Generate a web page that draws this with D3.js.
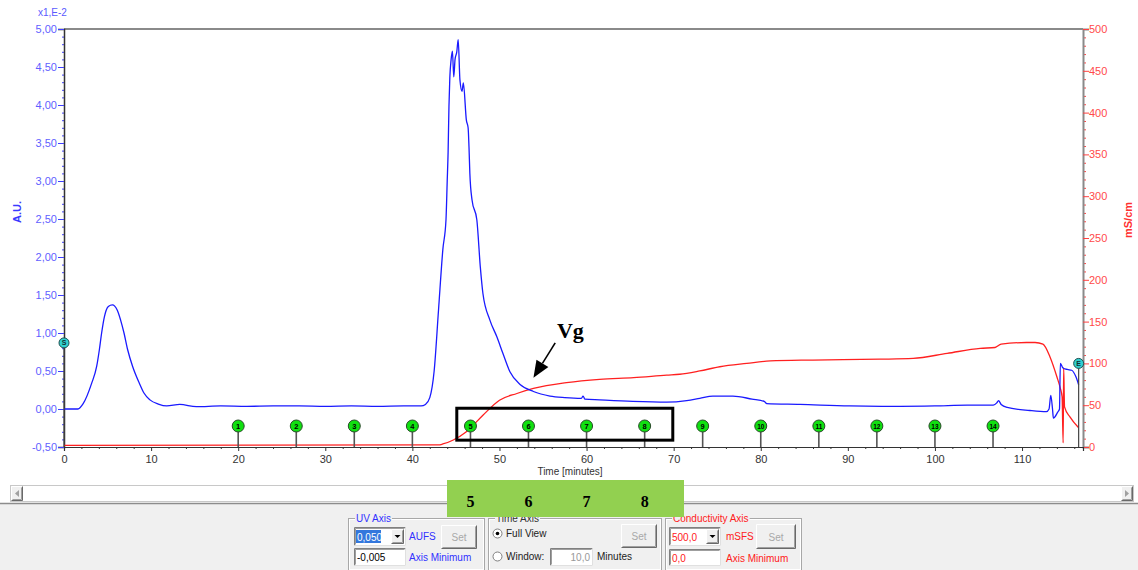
<!DOCTYPE html>
<html>
<head>
<meta charset="utf-8">
<script src="https://cdn.jsdelivr.net/npm/d3@7"></script>
<style>
html, body { margin: 0; padding: 0; background: #ffffff; }
svg { display: block; font-family: "Liberation Sans", Arial, sans-serif; }
</style>
</head>
<body>
<svg id="chart" width="1138" height="570"></svg>
<script>
// UV absorbance trace (A.U. x 1E-2) against time in minutes
const uvTime = [0, 1.6, 2.2, 3.18, 3.75, 4.06, 4.32, 4.63, 5.09, 5.55, 6.12, 6.5, 6.89, 7.31, 7.88, 8.65, 9.18, 9.87, 10.83, 11.8, 13.3, 15.2,
  18, 21, 24, 27, 30, 33, 36, 39, 41.0, 41.5, 42.0, 42.5, 43.0, 43.5, 43.86, 44.0, 44.1, 44.2, 44.3, 44.45, 44.6, 44.75, 44.9, 45.1, 45.26, 45.46,
  45.7, 45.85, 46.2, 46.4, 46.5, 46.6, 46.85, 47.4, 47.8, 48.1, 48.9, 49.7, 50.4, 51.2, 52.4, 53.9, 55.8, 57.5, 59.4, 59.6, 59.8,
  61.5, 65.3, 69.2, 71.5, 73, 74.5, 76.8, 79, 80.4, 80.7, 84.5, 90.2, 96, 100, 103.7, 106.7, 107.1, 107.3, 107.6, 108.3, 110.9,
  112.8, 113.1, 113.3, 113.5, 113.6, 114.1, 114.3, 114.4, 114.7, 115.2, 115.7, 116.2, 116.5];
const uvValue = [0, 0, 0.07, 0.34, 0.56, 0.78, 1.0, 1.21, 1.35, 1.37, 1.30, 1.17, 1.0, 0.78, 0.56, 0.34, 0.21, 0.12, 0.065, 0.04, 0.06, 0.03,
  0.04, 0.035, 0.04, 0.04, 0.035, 0.04, 0.035, 0.04, 0.04, 0.06, 0.15, 0.5, 1.3, 2.1, 2.49, 3.0, 3.37, 3.98, 4.36, 4.6, 4.71, 4.37, 4.6, 4.7, 4.86, 4.33,
  4.18, 4.29, 3.8, 3.7, 3.45, 3.1, 2.75, 2.49, 1.87, 1.52, 1.17, 0.95, 0.73, 0.49, 0.32, 0.23, 0.17, 0.15, 0.14, 0.17, 0.13,
  0.12, 0.10, 0.09, 0.11, 0.14, 0.17, 0.17, 0.13, 0.10, 0.07, 0.06, 0.04, 0.035, 0.04, 0.05, 0.05, 0.08, 0.11, 0.06, 0.02, -0.02,
  -0.035, 0.0, 0.18, 0.0, -0.12, -0.04, 0.0, 0.60, 0.54, 0.52, 0.51, 0.42, 0.32];

// Conductivity trace (mS/cm) against time in minutes
const condTime = [0, 43.0, 43.5, 44.7, 46.2, 48.1, 50.0, 52.0, 53.9, 57.7, 61.5, 65.4, 69.2, 70.7, 73.0, 75.3, 78.4, 81.1, 86, 93.7, 97.5,
  101.4, 105.2, 106.9, 107.6, 110.5, 111.5, 112.4, 113.2, 114.0, 114.4, 114.6, 114.72, 114.78, 114.88, 115.5, 116.5];
const condValue = [2, 2.5, 3.6, 8.4, 18.3, 38, 56, 64, 70, 77, 81, 83, 86, 87, 91, 96, 100, 103, 104, 105, 106,
  112, 118, 119, 123, 125, 125, 123, 108, 84, 70, 60, 5, 95, 48, 36, 23];

// Fraction collector marks
const fractionLabels = ["1", "2", "3", "4", "5", "6", "7", "8", "9", "10", "11", "12", "13", "14"];
const fractionTime = [20, 26.67, 33.33, 40, 46.67, 53.33, 60, 66.67, 73.33, 80, 86.67, 93.33, 100, 106.67];

// Run start / end events
const startLabel = "S", startTime = 0, startUV = 0.87;
const endLabel = "E", endTime = 116.5, endCond = 100;

// Axis ticks
const uvMajorTicks = [-0.5, 0, 0.5, 1, 1.5, 2, 2.5, 3, 3.5, 4, 4.5, 5];
const condMajorTicks = [0, 50, 100, 150, 200, 250, 300, 350, 400, 450, 500];
const timeMajorTicks = [0, 10, 20, 30, 40, 50, 60, 70, 80, 90, 100, 110];

// Highlighted fraction window and annotation
const boxTime = [45.1, 69.9], boxUV = [0.01, -0.41];
const arrowFrom = [56.4, 0.87], arrowTo = [53.9, 0.41];
const vgLabel = "Vg", vgAt = [56.6, 0.93];
const highlighted = ["5", "6", "7", "8"];

const svg = d3.select("#chart");
const x = d3.scaleLinear().domain([0, 117]).range([64, 1083]);
const yL = d3.scaleLinear().domain([-0.5, 5]).range([447, 29]);
const yR = d3.scaleLinear().domain([0, 500]).range([447, 29]);

const commaFmt = (f) => (v) => d3.format(f)(v).replace(".", ",").replace("−", "-");

// Plot frame
svg.append("line").attr("x1", 64).attr("x2", 1083).attr("y1", 29).attr("y2", 29)
  .attr("stroke", "#8a8a8a").attr("stroke-width", 2);

// Left axis (UV)
const uvMinor = d3.range(-5, 51).map(d => d / 10).filter(v => !uvMajorTicks.some(m => Math.abs(m - v) < 1e-6));
const gLm = svg.append("g").attr("transform", "translate(64,0)")
  .call(d3.axisLeft(yL).tickValues(uvMinor).tickSize(2).tickFormat(""));
gLm.select(".domain").remove();
gLm.selectAll(".tick line").attr("stroke", "#4040ff");
const gL = svg.append("g").attr("transform", "translate(64,0)")
  .call(d3.axisLeft(yL).tickValues(uvMajorTicks).tickSize(6).tickPadding(1).tickFormat(commaFmt(".2f")));
gL.select(".domain").attr("stroke", "#333").attr("stroke-width", 1.5);
gL.selectAll(".tick line").attr("stroke", "#4040ff");
gL.selectAll(".tick text").attr("fill", "#5f5fff").style("font-size", "11px");

// Right axis (conductivity)
const condMinor = d3.range(0, 501, 10).filter(v => v % 50 !== 0);
const gRm = svg.append("g").attr("transform", "translate(1083,0)")
  .call(d3.axisRight(yR).tickValues(condMinor).tickSize(3).tickFormat(""));
gRm.select(".domain").remove();
gRm.selectAll(".tick line").attr("stroke", "#ff4040");
const gR = svg.append("g").attr("transform", "translate(1083,0)")
  .call(d3.axisRight(yR).tickValues(condMajorTicks).tickSize(6).tickPadding(0).tickFormat(d3.format("d")));
gR.select(".domain").attr("stroke", "#8a8a8a").attr("stroke-width", 2);
gR.selectAll(".tick line").attr("stroke", "#ff4040");
gR.selectAll(".tick text").attr("fill", "#ff4a4a").style("font-size", "11px");

// Bottom axis (time)
const timeMinor = d3.range(0, 117, 2).filter(v => v % 10 !== 0);
const gBm = svg.append("g").attr("transform", "translate(0,447)")
  .call(d3.axisBottom(x).tickValues(timeMinor).tickSize(2).tickFormat(""));
gBm.select(".domain").remove();
gBm.selectAll(".tick line").attr("stroke", "#333");
const gB = svg.append("g").attr("transform", "translate(0,447)")
  .call(d3.axisBottom(x).tickValues(timeMajorTicks).tickSize(4).tickPadding(4).tickFormat(d3.format("d")));
gB.select(".domain").attr("stroke", "#333").attr("stroke-width", 1.2);
gB.selectAll(".tick line").attr("stroke", "#333");
gB.selectAll(".tick text").attr("fill", "#333").style("font-size", "11px");

// Axis titles
svg.append("text").attr("x", 38).attr("y", 16).attr("fill", "#5a5aff").style("font-size", "10px").text("x1,E-2");
svg.append("text").attr("transform", "translate(21,212) rotate(-90)").attr("text-anchor", "middle")
  .attr("fill", "#3a3aff").style("font-size", "11px").style("font-weight", "bold").text("A.U.");
svg.append("text").attr("transform", "translate(1132,220) rotate(-90)").attr("text-anchor", "middle")
  .attr("fill", "#ff3030").style("font-size", "11px").style("font-weight", "bold").text("mS/cm");
svg.append("text").attr("x", 570).attr("y", 475).attr("text-anchor", "middle")
  .attr("fill", "#333").style("font-size", "10px").text("Time [minutes]");

// Traces
svg.append("clipPath").attr("id", "plotClip").append("rect")
  .attr("x", 64).attr("y", 29).attr("width", 1019).attr("height", 419);
const plot = svg.append("g").attr("clip-path", "url(#plotClip)");

const condLine = d3.line().curve(d3.curveMonotoneX).x((d, i) => x(condTime[i])).y(d => yR(d));
plot.append("path").datum(condValue).attr("d", condLine)
  .attr("fill", "none").attr("stroke", "#ff2020").attr("stroke-width", 1.3);

const uvLine = d3.line().curve(d3.curveMonotoneX).x((d, i) => x(uvTime[i])).y(d => yL(d));
plot.append("path").datum(uvValue).attr("d", uvLine)
  .attr("fill", "none").attr("stroke", "#1a1aff").attr("stroke-width", 1.3);

// Fraction markers
const axisY = yL(-0.5);
const fr = svg.append("g").selectAll("g").data(fractionLabels).join("g")
  .attr("transform", (d, i) => `translate(${x(fractionTime[i])},0)`);
fr.append("line").attr("y1", axisY - 21).attr("y2", axisY).attr("stroke", "#555").attr("stroke-width", 1.6);
fr.append("circle").attr("cy", axisY - 21).attr("r", 6).attr("fill", "#10e010").attr("stroke", "#2a4a2a").attr("stroke-width", 1);
fr.append("text").attr("y", axisY - 18.5).attr("text-anchor", "middle").attr("fill", "#000")
  .style("font-size", d => d.length > 1 ? "6.5px" : "7.5px").style("font-weight", "bold").text(d => d);

// Start / end events
function eventMark(cx, cy, label) {
  svg.append("line").attr("x1", cx).attr("x2", cx).attr("y1", cy).attr("y2", axisY).attr("stroke", "#444").attr("stroke-width", 1.2);
  svg.append("circle").attr("cx", cx).attr("cy", cy).attr("r", 5).attr("fill", "#30d0d0").attr("stroke", "#205050").attr("stroke-width", 1);
  svg.append("text").attr("x", cx).attr("y", cy + 2.5).attr("text-anchor", "middle").attr("fill", "#103030")
    .style("font-size", "7px").style("font-weight", "bold").text(label);
}
eventMark(x(startTime), yL(startUV), startLabel);
eventMark(x(endTime), yR(endCond), endLabel);

// Highlight rectangle around fractions 5-8
svg.append("rect").attr("x", x(boxTime[0])).attr("y", yL(boxUV[0]))
  .attr("width", x(boxTime[1]) - x(boxTime[0])).attr("height", yL(boxUV[1]) - yL(boxUV[0]))
  .attr("fill", "none").attr("stroke", "#000").attr("stroke-width", 3);

// Vg arrow
const ax0 = x(arrowFrom[0]), ay0 = yL(arrowFrom[1]), ax1 = x(arrowTo[0]), ay1 = yL(arrowTo[1]);
const ang = Math.atan2(ay1 - ay0, ax1 - ax0);
const headLen = 17, headHalf = 7;
const bx = ax1 - headLen * Math.cos(ang), by = ay1 - headLen * Math.sin(ang);
svg.append("line").attr("x1", ax0).attr("y1", ay0).attr("x2", bx).attr("y2", by).attr("stroke", "#000").attr("stroke-width", 1.6);
svg.append("path").attr("d", `M${ax1},${ay1} L${bx - headHalf * Math.sin(ang)},${by + headHalf * Math.cos(ang)} L${bx + headHalf * Math.sin(ang)},${by - headHalf * Math.cos(ang)} Z`)
  .attr("fill", "#000");
svg.append("text").attr("x", x(vgAt[0])).attr("y", yL(vgAt[1])).attr("fill", "#000")
  .style("font-family", "'Liberation Serif', 'Times New Roman', serif").style("font-size", "22px").style("font-weight", "bold").text(vgLabel);

// Scroll bar and control panel
svg.append("rect").attr("x", 0).attr("y", 503).attr("width", 1138).attr("height", 67).attr("fill", "#f0f0f0");
svg.append("line").attr("x1", 0).attr("x2", 1138).attr("y1", 503.5).attr("y2", 503.5).attr("stroke", "#8c8c8c").attr("stroke-width", 1.5);
svg.append("rect").attr("x", 10.5).attr("y", 485.5).attr("width", 1123).attr("height", 16).attr("fill", "#fff").attr("stroke", "#c8c8c8");
function raised(x0, y0, w, h) {
  svg.append("rect").attr("x", x0).attr("y", y0).attr("width", w).attr("height", h).attr("fill", "#f0f0f0");
  svg.append("path").attr("d", `M${x0 + 0.5},${y0 + h - 0.5} V${y0 + 0.5} H${x0 + w - 0.5}`).attr("fill", "none").attr("stroke", "#ffffff");
  svg.append("path").attr("d", `M${x0 + 0.5},${y0 + h - 0.5} H${x0 + w - 0.5} V${y0 + 0.5}`).attr("fill", "none").attr("stroke", "#696969");
  svg.append("path").attr("d", `M${x0 + 1.5},${y0 + h - 1.5} H${x0 + w - 1.5} V${y0 + 1.5}`).attr("fill", "none").attr("stroke", "#a0a0a0");
}
raised(11, 486, 12, 15);
svg.append("path").attr("d", "M19,490 L15,493.5 L19,497 Z").attr("fill", "#a0a0a0");
raised(1121, 486, 12, 15);
svg.append("path").attr("d", "M1125,490 L1129,493.5 L1125,497 Z").attr("fill", "#a0a0a0");

function groupBox(x0, y0, w, h, label, color) {
  svg.append("rect").attr("x", x0 + 0.5).attr("y", y0 + 0.5).attr("width", w).attr("height", h).attr("fill", "none").attr("stroke", "#a8a8a8");
  svg.append("rect").attr("x", x0 + 1.5).attr("y", y0 + 1.5).attr("width", w - 2).attr("height", h - 2).attr("fill", "none").attr("stroke", "#ffffff");
  const t = svg.append("text").attr("x", x0 + 8).attr("y", y0 + 4).attr("fill", color).style("font-size", "10px").text(label);
  const bb = t.node().getBBox();
  svg.insert("rect", () => t.node()).attr("x", bb.x - 1).attr("y", bb.y).attr("width", bb.width + 2).attr("height", bb.height).attr("fill", "#f0f0f0");
}
function sunken(x0, y0, w, h) {
  svg.append("rect").attr("x", x0).attr("y", y0).attr("width", w).attr("height", h).attr("fill", "#ffffff");
  svg.append("path").attr("d", `M${x0 + 0.5},${y0 + h - 0.5} V${y0 + 0.5} H${x0 + w - 0.5}`).attr("fill", "none").attr("stroke", "#808080");
  svg.append("path").attr("d", `M${x0 + 1.5},${y0 + h - 1.5} V${y0 + 1.5} H${x0 + w - 1.5}`).attr("fill", "none").attr("stroke", "#404040").attr("stroke-opacity", 0.5);
  svg.append("path").attr("d", `M${x0 + 0.5},${y0 + h - 0.5} H${x0 + w - 0.5} V${y0 + 0.5}`).attr("fill", "none").attr("stroke", "#e0e0e0");
}
function button(x0, y0, w, h, label) {
  raised(x0, y0, w, h);
  svg.append("text").attr("x", x0 + w / 2).attr("y", y0 + h / 2 + 4).attr("text-anchor", "middle")
    .attr("fill", "#a8a8a8").style("font-size", "10px").text(label);
}
function combo(x0, y0, w, h, value, color, selected) {
  sunken(x0, y0, w, h);
  if (selected) svg.append("rect").attr("x", x0 + 2).attr("y", y0 + 3).attr("width", 25).attr("height", h - 6).attr("fill", "#3377dd");
  svg.append("text").attr("x", x0 + 3).attr("y", y0 + h / 2 + 4).attr("fill", selected ? "#ffffff" : color).style("font-size", "10px").text(value);
  raised(x0 + w - 15, y0 + 2, 13, h - 4);
  const cx = x0 + w - 8.5, cy = y0 + h / 2;
  svg.append("path").attr("d", `M${cx - 3},${cy - 1.5} L${cx + 3},${cy - 1.5} L${cx},${cy + 1.5} Z`).attr("fill", "#000");
}
function field(x0, y0, w, h, value, color, align) {
  sunken(x0, y0, w, h);
  svg.append("text").attr("x", align === "end" ? x0 + w - 3 : x0 + 3).attr("y", y0 + h / 2 + 4)
    .attr("text-anchor", align === "end" ? "end" : "start").attr("fill", color).style("font-size", "10px").text(value);
}
function label(x0, y0, text, color) {
  svg.append("text").attr("x", x0).attr("y", y0).attr("fill", color).style("font-size", "10px").text(text);
}

// UV axis settings
groupBox(348, 518, 136, 52, "UV Axis", "#3030ff");
combo(354, 527, 52, 19, "0,050", "#000", true);
label(409, 540, "AUFS", "#3030ff");
button(441, 525, 36, 24, "Set");
field(354, 548, 52, 18, "-0,005", "#000", "start");
label(409, 561, "Axis Minimum", "#3030ff");

// Time axis settings
groupBox(488, 518, 173, 52, "Time Axis", "#333");
svg.append("circle").attr("cx", 497.5).attr("cy", 533.5).attr("r", 4.5).attr("fill", "#fff").attr("stroke", "#808080");
svg.append("circle").attr("cx", 497.5).attr("cy", 533.5).attr("r", 1.8).attr("fill", "#000");
label(506, 537, "Full View", "#222");
svg.append("circle").attr("cx", 497.5).attr("cy", 556.5).attr("r", 4.5).attr("fill", "#fff").attr("stroke", "#808080");
label(506, 560, "Window:", "#222");
field(550, 548, 43, 18, "10,0", "#999", "end");
label(597, 560, "Minutes", "#222");
button(621, 524, 36, 24, "Set");

// Conductivity axis settings
groupBox(665, 518, 136, 52, "Conductivity Axis", "#ff2020");
combo(669, 527, 52, 19, "500,0", "#ff2020", false);
label(726, 540, "mSFS", "#ff2020");
button(756, 524, 40, 25, "Set");
field(669, 549, 52, 17, "0,0", "#ff2020", "start");
label(726, 562, "Axis Minimum", "#ff2020");

// Fraction highlight legend
svg.append("rect").attr("x", 447).attr("y", 480).attr("width", 237).attr("height", 37).attr("fill", "#92d050");
svg.append("g").selectAll("text").data(highlighted).join("text")
  .attr("x", d => x(fractionTime[fractionLabels.indexOf(d)])).attr("y", 507).attr("text-anchor", "middle")
  .attr("fill", "#000").style("font-family", "'Liberation Serif', 'Times New Roman', serif")
  .style("font-size", "16px").style("font-weight", "bold").text(d => d);
</script>
</body>
</html>
